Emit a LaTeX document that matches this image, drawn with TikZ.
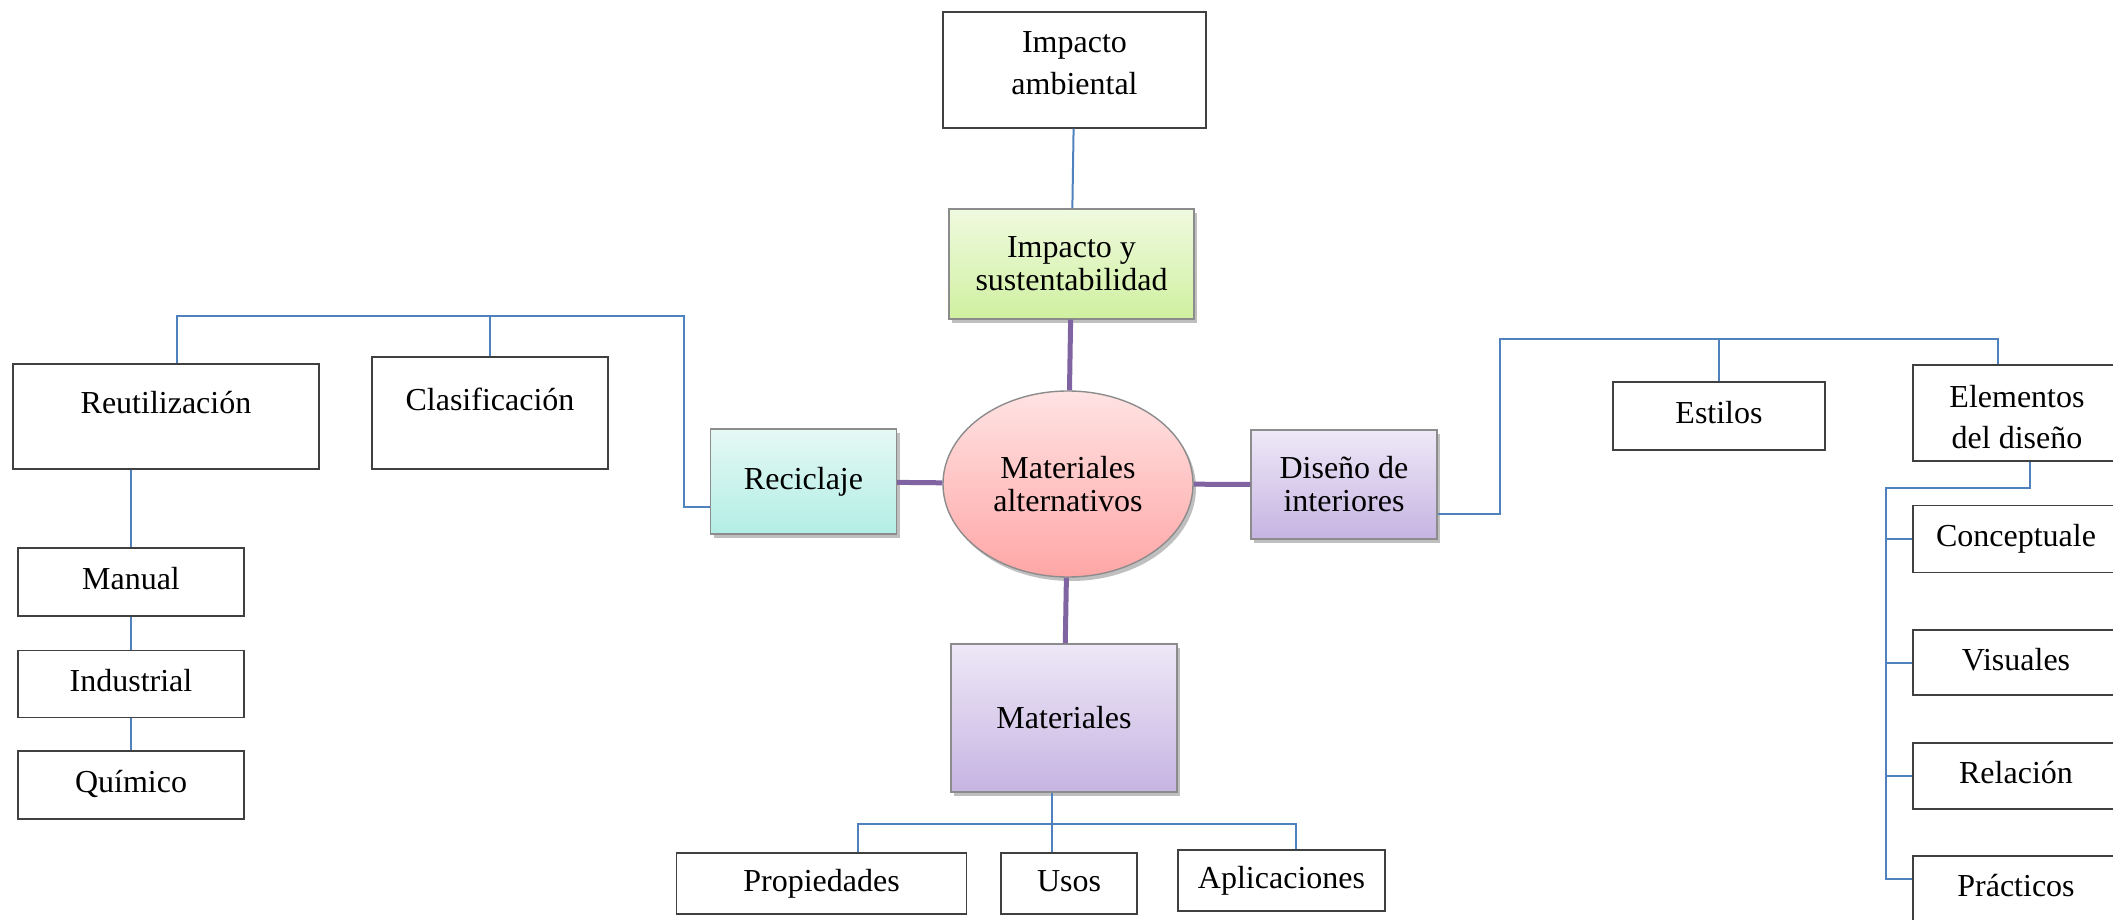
\documentclass[tikz,border=0pt]{standalone}
\usepackage{fontspec}
\setmainfont{Liberation Serif}
\usetikzlibrary{shapes.geometric,shadows}

\definecolor{linkblue}{HTML}{4F81BD}
\definecolor{hubpurple}{HTML}{8064A2}
\definecolor{greentop}{HTML}{EFFADF}
\definecolor{greenbot}{HTML}{D0F0A0}
\definecolor{cyantop}{HTML}{E5F8F4}
\definecolor{cyanbot}{HTML}{B2EEE5}
\definecolor{purptop}{HTML}{EEE8F7}
\definecolor{purpbot}{HTML}{C6B4E2}
\definecolor{pinktop}{HTML}{FFE3E3}
\definecolor{pinkbot}{HTML}{FFA6A6}

\begin{document}
\begin{tikzpicture}[x=1pt,y=-1pt,
  font=\fontsize{32}{33}\selectfont,
  box/.style={draw=black!75, line width=1.4pt, fill=white, inner sep=0pt,
    text height=22pt, text depth=7pt},
  twobox/.style={draw=black!75, line width=1.4pt, fill=white, inner sep=0pt,
    align=center},
  hub/.style={draw=black!45, line width=1.4pt, inner sep=0pt, align=center,
    drop shadow={shadow xshift=3pt, shadow yshift=-4pt, opacity=0.25, fill=black}},
  uptext/.style={text depth=28pt},
  hubline/.style={draw=hubpurple, line width=5pt},
  link/.style={draw=linkblue, line width=2pt}]

\useasboundingbox (0,0) rectangle (2113,920);

% Centre
\node[hub, ellipse, top color=pinktop, bottom color=pinkbot,
  minimum width=250pt, minimum height=186pt] (matalt) at (1068,484)
{Materiales\\alternativos};

% Upper branch
\node[hub, top color=greentop, bottom color=greenbot,
  minimum width=245pt, minimum height=110pt] (impsus) at (1071.5,264)
{Impacto y\\sustentabilidad};

\node[twobox, minimum width=263pt, minimum height=116pt] (impamb) at (1074.5,70)
{Impacto\\[9pt]ambiental\rule[-14pt]{0pt}{1pt}};

% Left branch
\node[hub, top color=cyantop, bottom color=cyanbot,
  minimum width=186pt, minimum height=105pt] (recic) at (803.5,481.5)
{Reciclaje};

\node[box, uptext, minimum width=306pt, minimum height=105pt] (reut) at (166,416.5)
{Reutilización};

\node[box, uptext, minimum width=236pt, minimum height=112pt] (clas) at (490,413)
{Clasificación};

\node[box, minimum width=226pt, minimum height=68pt] (manu) at (131,582)
{Manual};

\node[box, minimum width=226pt, minimum height=67pt] (indu) at (131,684)
{Industrial};

\node[box, minimum width=226pt, minimum height=68pt] (quim) at (131,785)
{Químico};

% Right branch
\node[hub, top color=purptop, bottom color=purpbot,
  minimum width=186pt, minimum height=109pt] (dis) at (1344,484.5)
{Diseño de\\interiores};

\node[box, minimum width=212pt, minimum height=68pt] (esti) at (1719,416)
{Estilos};

\node[twobox, minimum width=208pt, minimum height=96pt] (elem) at (2017,413)
{\rule{0pt}{30pt}Elementos\\[8pt]del diseño};

\node[box, minimum width=206pt, minimum height=67pt] (conc) at (2016,539)
{Conceptuale};

\node[box, minimum width=206pt, minimum height=65pt] (visu) at (2016,662.5)
{Visuales};

\node[box, minimum width=206pt, minimum height=66pt] (rela) at (2016,776)
{Relación};

\node[box, minimum width=206pt, minimum height=65pt] (prac) at (2016,888.5)
{Prácticos};

% Lower branch
\node[hub, top color=purptop, bottom color=purpbot,
  minimum width=226pt, minimum height=148pt] (mats) at (1064,718)
{Materiales};

\node[box, minimum width=290pt, minimum height=61pt] (prop) at (821.5,883.5)
{Propiedades};

\node[box, minimum width=136pt, minimum height=61pt] (usos) at (1069,883.5)
{Usos};

\node[box, minimum width=207pt, minimum height=61pt] (apli) at (1281.5,880.5)
{Aplicaciones};

% Purple spokes
\draw[hubline] (impsus) -- (matalt);
\draw[hubline] (matalt) -- (recic);
\draw[hubline] (matalt) -- (dis);
\draw[hubline] (matalt) -- (mats);

% Blue connectors
\draw[link] (impamb) -- (impsus);

\coordinate (lbus) at (684,316);
\draw[link] ([yshift=-25.5pt]recic.west) -| (lbus) -| ([xshift=11pt]reut.north);
\draw[link] (lbus -| clas.north) -- (clas.north);
\draw[link] (manu.north |- reut.south) -- (manu.north);
\draw[link] (manu) -- (indu);
\draw[link] (indu) -- (quim);

\coordinate (rbus) at (1500,339);
\draw[link] ([yshift=-29.5pt]dis.east) -| (rbus) -| ([xshift=-19pt]elem.north);
\draw[link] (rbus -| esti.north) -- (esti.north);

\coordinate (espine) at (1886,488);
\draw[link] ([xshift=13pt]elem.south) |- (espine) |- ([yshift=10pt]prac.west);
\draw[link] (espine |- conc.west) -- (conc.west);
\draw[link] (espine |- visu.west) -- (visu.west);
\draw[link] (espine |- rela.west) -- (rela.west);

\coordinate (mbus) at (1052,824);
\draw[link] ([xshift=-12pt]mats.south) -- (mbus |- usos.north);
\draw[link] ([xshift=36.5pt]prop.north) |- (mbus) -| ([xshift=14.5pt]apli.north);

\end{tikzpicture}
\end{document}
